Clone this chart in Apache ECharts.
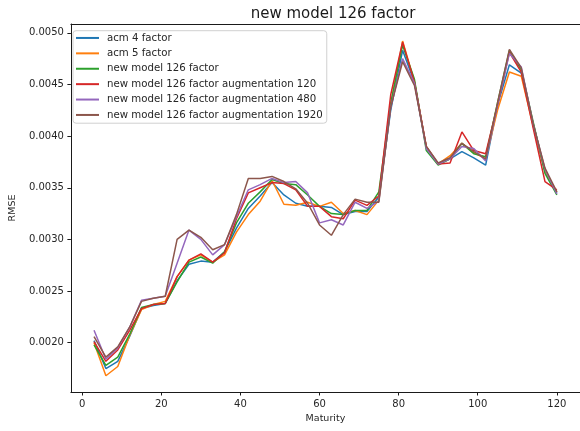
<!DOCTYPE html>
<html>
<head>
<meta charset="utf-8">
<script src="https://cdn.jsdelivr.net/npm/echarts@6/dist/echarts.min.js"></script>
<style>
  html, body { margin: 0; padding: 0; background: #fff; }
  #chart { width: 580px; height: 431px; }
</style>
</head>
<body>
<div id="chart"></div>
<script>
// Maturities (months)
const maturity = [3, 6, 9, 12, 15, 18, 21, 24, 27, 30, 33, 36, 39, 42, 45, 48, 51, 54, 57, 60,
                  63, 66, 69, 72, 75, 78, 81, 84, 87, 90, 93, 96, 99, 102, 105, 108, 111, 114, 117, 120];

// RMSE per model
const acm4 = [0.00202, 0.00175, 0.00182, 0.00206, 0.00233, 0.00236, 0.00238, 0.00260, 0.00276, 0.00279,
              0.00278, 0.00288, 0.00311, 0.00330, 0.00342, 0.00355, 0.00343, 0.00335, 0.00332, 0.00332,
              0.00331, 0.00324, 0.00327, 0.00327, 0.00341, 0.00425, 0.00483, 0.00452, 0.00389, 0.00373,
              0.00378, 0.00385, 0.00379, 0.00372, 0.00430, 0.00469, 0.00461, 0.00412, 0.00366, 0.00345];
const acm5 = [0.00200, 0.00168, 0.00177, 0.00207, 0.00232, 0.00237, 0.00240, 0.00264, 0.00280, 0.00285,
              0.00278, 0.00285, 0.00307, 0.00324, 0.00337, 0.00357, 0.00334, 0.00333, 0.00336, 0.00332,
              0.00336, 0.00325, 0.00328, 0.00324, 0.00338, 0.00430, 0.00492, 0.00453, 0.00389, 0.00373,
              0.00381, 0.00393, 0.00384, 0.00378, 0.00425, 0.00462, 0.00458, 0.00410, 0.00366, 0.00346];
const nm126 = [0.00198, 0.00178, 0.00186, 0.00208, 0.00234, 0.00237, 0.00238, 0.00259, 0.00278, 0.00283,
               0.00277, 0.00288, 0.00316, 0.00335, 0.00346, 0.00358, 0.00354, 0.00353, 0.00343, 0.00332,
               0.00325, 0.00324, 0.00328, 0.00328, 0.00346, 0.00432, 0.00488, 0.00455, 0.00386, 0.00372,
               0.00378, 0.00393, 0.00383, 0.00380, 0.00432, 0.00483, 0.00464, 0.00414, 0.00364, 0.00343];
const aug120 = [0.00201, 0.00182, 0.00193, 0.00212, 0.00233, 0.00237, 0.00238, 0.00264, 0.00280, 0.00286,
                0.00278, 0.00287, 0.00320, 0.00345, 0.00350, 0.00355, 0.00354, 0.00348, 0.00332, 0.00332,
                0.00322, 0.00320, 0.00338, 0.00333, 0.00342, 0.00440, 0.00491, 0.00452, 0.00390, 0.00373,
                0.00374, 0.00404, 0.00386, 0.00383, 0.00430, 0.00481, 0.00462, 0.00408, 0.00356, 0.00348];
const aug480 = [0.00212, 0.00184, 0.00195, 0.00215, 0.00241, 0.00243, 0.00245, 0.00277, 0.00309, 0.00300,
                0.00285, 0.00295, 0.00322, 0.00348, 0.00353, 0.00359, 0.00355, 0.00356, 0.00345, 0.00316,
                0.00319, 0.00314, 0.00336, 0.00330, 0.00337, 0.00428, 0.00475, 0.00451, 0.00388, 0.00373,
                0.00378, 0.00390, 0.00388, 0.00376, 0.00430, 0.00480, 0.00467, 0.00412, 0.00368, 0.00344];
const aug1920 = [0.00206, 0.00186, 0.00196, 0.00215, 0.00240, 0.00243, 0.00245, 0.00300, 0.00309, 0.00302,
                 0.00290, 0.00295, 0.00324, 0.00359, 0.00359, 0.00361, 0.00356, 0.00349, 0.00335, 0.00314,
                 0.00304, 0.00324, 0.00339, 0.00336, 0.00336, 0.00428, 0.00472, 0.00449, 0.00390, 0.00374,
                 0.00379, 0.00393, 0.00385, 0.00378, 0.00432, 0.00484, 0.00466, 0.00412, 0.00369, 0.00346];

const seriesNames = [
  'acm 4 factor',
  'acm 5 factor',
  'new model 126 factor',
  'new model 126 factor augmentation 120',
  'new model 126 factor augmentation 480',
  'new model 126 factor augmentation 1920'
];
const seriesValues = [acm4, acm5, nm126, aug120, aug480, aug1920];
const colors = ['#1f77b4', '#ff7f0e', '#2ca02c', '#d62728', '#9467bd', '#8c564b'];

// Tick labels
const xTicks = [0, 20, 40, 60, 80, 100, 120];
const yTicks = [0.0020, 0.0025, 0.0030, 0.0035, 0.0040, 0.0045, 0.0050];

const FONT = 'DejaVu Sans';
const TXT = '#262626';
const SPINE = '#1a1a1a';

const chart = echarts.init(document.getElementById('chart'), null, { renderer: 'canvas' });

chart.setOption({
  animation: false,
  backgroundColor: '#ffffff',
  color: colors,
  title: {
    text: 'new model 126 factor',
    left: 328,
    top: 2,
    textAlign: 'center',
    textStyle: { fontFamily: FONT, fontSize: 15, fontWeight: 'normal', color: '#1a1a1a' }
  },
  grid: {
    left: 68.5,
    top: 24,
    width: 518.8,
    height: 368,
    show: false
  },
  legend: {
    orient: 'vertical',
    left: 73,
    top: 30.7,
    icon: 'rect',
    itemWidth: 23,
    itemHeight: 2,
    itemGap: 2.9,
    padding: [1, 4, 2, 3],
    backgroundColor: 'rgba(255,255,255,0.8)',
    borderColor: '#d0d0d0',
    borderWidth: 1,
    borderRadius: 3,
    textStyle: { fontFamily: FONT, fontSize: 10.2, color: TXT, lineHeight: 12.5, padding: [0, 0, 0, 3] },
    data: seriesNames
  },
  xAxis: [{
    type: 'value',
    min: -2.85,
    max: 125.85,
    name: 'Maturity',
    nameLocation: 'middle',
    nameGap: 20,
    nameTextStyle: { fontFamily: FONT, fontSize: 9.5, color: TXT },
    axisLine: { show: true, onZero: false, lineStyle: { color: SPINE, width: 1 } },
    axisTick: { show: true, length: 3.5, customValues: xTicks, lineStyle: { color: SPINE } },
    axisLabel: { customValues: xTicks, margin: 7, fontFamily: FONT, fontSize: 10, color: TXT },
    splitLine: { show: false }
  }, {
    // top spine
    type: 'value',
    position: 'top',
    min: -2.85,
    max: 125.85,
    axisLine: { show: true, onZero: false, lineStyle: { color: SPINE, width: 1 } },
    axisTick: { show: false },
    axisLabel: { show: false },
    splitLine: { show: false }
  }],
  yAxis: {
    type: 'value',
    min: 0.001523,
    max: 0.005085,
    name: 'RMSE',
    nameLocation: 'middle',
    nameGap: 44,
    nameRotate: 90,
    nameTextStyle: { fontFamily: FONT, fontSize: 9.5, color: TXT },
    axisLine: { show: true, onZero: false, lineStyle: { color: SPINE, width: 1 } },
    axisTick: { show: true, length: 3.5, customValues: yTicks, lineStyle: { color: SPINE } },
    axisLabel: {
      customValues: yTicks, margin: 7, fontFamily: FONT, fontSize: 10, color: TXT,
      formatter: v => v.toFixed(4)
    },
    splitLine: { show: false }
  },
  series: seriesNames.map((name, i) => ({
    name: name,
    type: 'line',
    xAxisIndex: 0,
    data: maturity.map((m, j) => [m, seriesValues[i][j]]),
    symbol: 'none',
    showSymbol: false,
    lineStyle: { width: 1.5, color: colors[i] },
    itemStyle: { color: colors[i] },
    emphasis: { disabled: true }
  }))
});
</script>
</body>
</html>
